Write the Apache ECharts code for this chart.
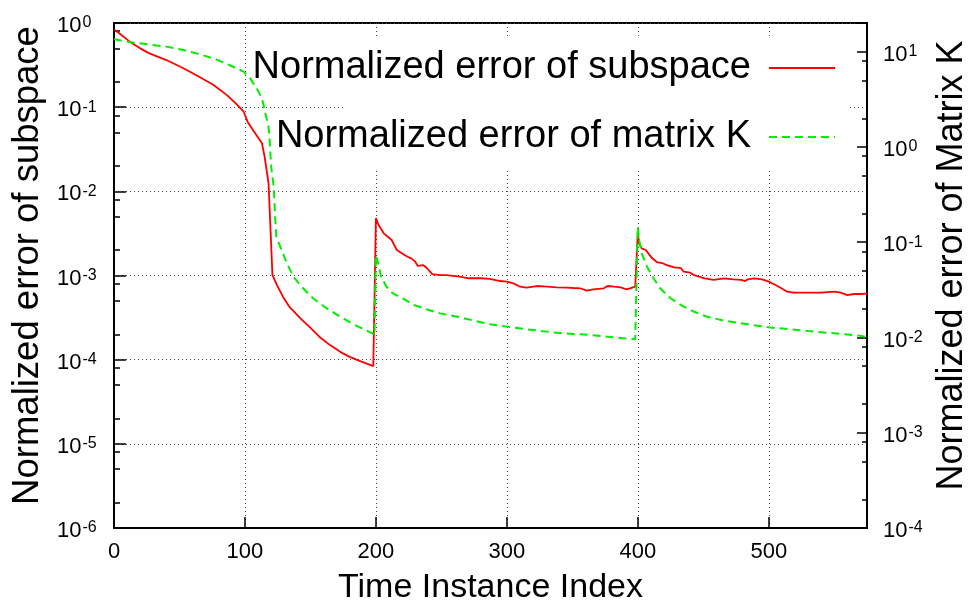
<!DOCTYPE html>
<html>
<head>
<meta charset="utf-8">
<script src="https://cdn.jsdelivr.net/npm/echarts@6/dist/echarts.min.js"></script>
<style>
  html, body { margin: 0; padding: 0; background: #fff; }
  #chart { width: 969px; height: 608px; }
</style>
</head>
<body>
<div id="chart"></div>
<script>
const FONT = '"Liberation Sans", Arial, Helvetica, sans-serif';

// red curve: normalized error of subspace (left axis)
const subspaceIdx = [0, 4, 12, 20, 27, 40, 53, 65, 76, 86,
  93, 99, 102, 107, 113, 115, 118, 119, 121, 125,
  129, 134, 142, 150, 157, 165, 173, 180, 188, 198,
  199, 200, 202, 206, 212, 213, 216, 218, 224, 227,
  230, 232, 236, 239, 243, 249, 254, 259, 264, 271,
  280, 287, 295, 300, 305, 310, 315, 323, 331, 338,
  346, 351, 356, 361, 366, 374, 377, 382, 387, 391,
  394, 398, 399, 400, 401, 403, 406, 408, 411, 415,
  419, 422, 428, 433, 435, 440, 443, 444, 451, 458,
  466, 473, 479, 482, 484, 489, 495, 500, 504, 509,
  514, 519, 530, 540, 550, 555, 560, 565, 570, 575];
const subspaceErr = [0.84, 0.755, 0.60, 0.50, 0.436, 0.363, 0.29, 0.230, 0.183, 0.140,
  0.111, 0.0883, 0.0672, 0.0511, 0.0372, 0.0258, 0.0125, 0.0119, 0.00101, 7.36e-4,
  5.6e-4, 4.23e-4, 3.13e-4, 2.38e-4, 1.86e-4, 1.49e-4, 1.23e-4, 1.08e-4, 9.6e-5, 8.4e-5,
  8.2e-5, 4.8e-3, 3.98e-3, 3.17e-3, 2.64e-3, 2.52e-3, 2.01e-3, 1.92e-3, 1.67e-3, 1.60e-3,
  1.46e-3, 1.30e-3, 1.33e-3, 1.22e-3, 1.04e-3, 1.01e-3, 1.01e-3, 9.87e-4, 9.68e-4, 9.27e-4,
  9.27e-4, 9.1e-4, 8.6e-4, 8.45e-4, 8.07e-4, 7.36e-4, 7.16e-4, 7.5e-4, 7.36e-4, 7.23e-4,
  7.16e-4, 7.1e-4, 7.05e-4, 6.6e-4, 6.86e-4, 7.05e-4, 7.5e-4, 7.36e-4, 7.23e-4, 6.86e-4,
  7.05e-4, 7.36e-4, 7.5e-4, 3.3e-3, 2.41e-3, 2.1e-3, 2.01e-3, 1.83e-3, 1.6e-3, 1.43e-3,
  1.40e-3, 1.33e-3, 1.25e-3, 1.22e-3, 1.11e-3, 1.08e-3, 1.01e-3, 9.68e-4, 9.27e-4, 8.85e-4,
  9.27e-4, 9.0e-4, 8.85e-4, 8.6e-4, 9.0e-4, 9.27e-4, 9.0e-4, 8.45e-4, 7.86e-4, 7.16e-4,
  6.42e-4, 6.25e-4, 6.25e-4, 6.25e-4, 6.42e-4, 6.25e-4, 5.86e-4, 6.03e-4, 6.03e-4, 6.1e-4];

// green dashed curve: normalized error of matrix K (right axis)
const matrixIdx = [0, 14, 27, 40, 53, 65, 78, 91, 99, 104,
  109, 113, 115, 118, 119, 120, 122, 123, 124, 128,
  132, 137, 142, 147, 152, 162, 173, 184, 197, 199,
  200, 202, 204, 208, 213, 218, 229, 239, 249, 262,
  275, 287, 300, 313, 326, 338, 351, 364, 377, 389,
  398, 399, 400, 401, 403, 407, 412, 417, 425, 433,
  443, 453, 466, 479, 491, 504, 517, 530, 542, 555,
  570, 575];
const matrixErr = [13.5, 12.5, 11.9, 11.3, 10.4, 9.45, 8.3, 6.95, 6.17, 5.25,
  4.12, 3.24, 2.44, 1.63, 1.09, 0.62, 0.383, 0.185, 0.114, 0.0828,
  0.060, 0.0435, 0.0356, 0.0302, 0.0258, 0.0204, 0.0165, 0.0135, 0.0111, 0.0106,
  0.0734, 0.0577, 0.0435, 0.0341, 0.0290, 0.0268, 0.0219, 0.0197, 0.0179, 0.0165,
  0.0150, 0.0138, 0.0130, 0.0123, 0.0117, 0.0112, 0.0109, 0.0106, 0.0102, 0.0098,
  0.00957, 0.0095, 0.1455, 0.105, 0.0764, 0.0553, 0.0418, 0.0328, 0.0258, 0.0219,
  0.0186, 0.0165, 0.0150, 0.0141, 0.0133, 0.0126, 0.0122, 0.0117, 0.0113, 0.0109,
  0.0104, 0.0101];

// minor tick positions (gnuplot draws them at 2, 5, 8 per decade)
const leftMinorTicks = [2e-6, 5e-6, 8e-6, 2e-5, 5e-5, 8e-5, 2e-4, 5e-4, 8e-4,
  2e-3, 5e-3, 8e-3, 2e-2, 5e-2, 8e-2, 0.2, 0.5, 0.8];
const rightMinorTicks = [2e-4, 5e-4, 8e-4, 2e-3, 5e-3, 8e-3, 2e-2, 5e-2, 8e-2,
  0.2, 0.5, 0.8, 2, 5, 8];

const seriesNames = ['Normalized error of subspace', 'Normalized error of matrix K'];

const zip = (xs, ys) => xs.map((x, i) => [x, ys[i]]);

const powLabel = v => {
  const l = Math.log10(v);
  const e = Math.round(l);
  if (Math.abs(l - e) > 1e-6) return '';
  return '{b|10}{s|' + e + '}';
};
const powRich = {
  b: { fontSize: 22, fontFamily: FONT, color: '#000', lineHeight: 22, padding: [6, 0, 0, 0] },
  s: { fontSize: 16, fontFamily: FONT, color: '#000', lineHeight: 14, padding: [3, 0, 0, 1], verticalAlign: 'top' }
};

const chart = echarts.init(document.getElementById('chart'));

const option = {
  animation: false,
  backgroundColor: '#fff',
  grid: {
    left: 114, right: 102, top: 23, bottom: 80,
    outerBoundsMode: 'none',
    show: true, borderColor: '#000', borderWidth: 2, backgroundColor: 'transparent'
  },
  graphic: [{
    // opaque key box, as gnuplot draws it
    type: 'rect', z: 1, silent: true,
    shape: { x: 345, y: 36, width: 505, height: 134 },
    style: { fill: '#fff' }
  }],
  legend: {
    orient: 'vertical',
    right: 133, top: 49,
    padding: 0,
    align: 'right',
    itemWidth: 66, itemHeight: 14, itemGap: 31,
    itemStyle: { opacity: 0 },
    textStyle: { fontSize: 38, fontFamily: FONT, color: '#000', padding: [0, 13, 0, 0] },
    data: seriesNames
  },
  xAxis: {
    type: 'value', min: 0, max: 575, interval: 100,
    name: 'Time Instance Index', nameLocation: 'middle', nameGap: 43,
    nameTextStyle: { fontSize: 34, fontFamily: FONT, color: '#000' },
    axisLine: { show: true, lineStyle: { color: '#000', width: 2 } },
    axisTick: { show: true, inside: true, length: 11, lineStyle: { color: '#000', width: 1.5 } },
    axisLabel: { fontSize: 22, fontFamily: FONT, color: '#000', margin: 13, showMaxLabel: false },
    splitLine: { show: true, lineStyle: { color: '#444', width: 1, type: [1, 3] } }
  },
  yAxis: [{
    type: 'log', min: 1e-6, max: 1, position: 'left',
    name: 'Normalized error of subspace', nameLocation: 'middle', nameRotate: 90, nameGap: 64,
    nameTextStyle: { fontSize: 36.5, fontFamily: FONT, color: '#000', padding: [0, 0, 0, 20] },
    axisLine: { show: true, lineStyle: { color: '#000', width: 2 } },
    axisTick: { show: true, inside: true, length: 12, lineStyle: { color: '#000', width: 1.5 } },
    axisLabel: { formatter: powLabel, rich: powRich, align: 'left', margin: 57 },
    splitLine: { show: true, lineStyle: { color: '#444', width: 1, type: [1, 3] } }
  }, {
    type: 'log', min: 1e-4, max: 20, position: 'right',
    name: 'Normalized error of Matrix K', nameLocation: 'middle', nameRotate: 90, nameGap: 65,
    nameTextStyle: { fontSize: 36, fontFamily: FONT, color: '#000', padding: [0, 0, 0, 20] },
    axisLine: { show: true, lineStyle: { color: '#000', width: 2 } },
    axisTick: { show: true, inside: true, length: 10, lineStyle: { color: '#000', width: 1.5 } },
    axisLabel: { formatter: powLabel, rich: powRich, align: 'left', margin: 16 },
    splitLine: { show: false }
  }, {
    type: 'log', min: 1e-6, max: 1, position: 'left',
    axisLine: { show: false },
    axisTick: { show: true, inside: true, length: 6, customValues: leftMinorTicks, lineStyle: { color: '#000', width: 1.5 } },
    axisLabel: { show: false },
    splitLine: { show: false }
  }, {
    type: 'log', min: 1e-4, max: 20, position: 'right',
    axisLine: { show: false },
    axisTick: { show: true, inside: true, length: 5, customValues: rightMinorTicks, lineStyle: { color: '#000', width: 1.5 } },
    axisLabel: { show: false },
    splitLine: { show: false }
  }],
  series: [{
    name: seriesNames[0],
    type: 'line', yAxisIndex: 0, symbol: 'none',
    lineStyle: { color: '#ff0000', width: 1.8 },
    itemStyle: { color: '#ff0000' },
    data: zip(subspaceIdx, subspaceErr)
  }, {
    name: seriesNames[1],
    type: 'line', yAxisIndex: 1, symbol: 'none',
    lineStyle: { color: '#00ee00', width: 2, type: [8, 5] },
    itemStyle: { color: '#00ee00' },
    data: zip(matrixIdx, matrixErr)
  }]
};

chart.setOption(option);
window.addEventListener('resize', () => chart.resize());
</script>
</body>
</html>
